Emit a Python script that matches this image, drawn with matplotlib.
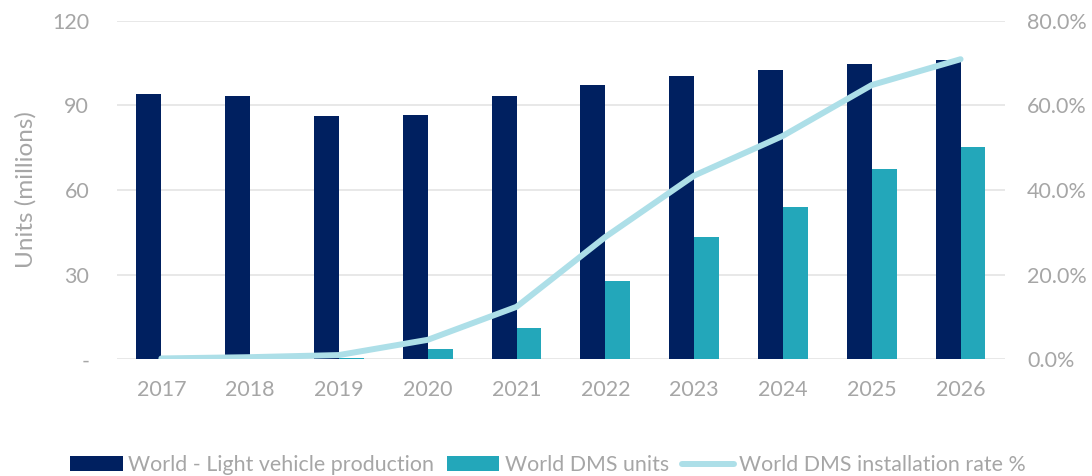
import matplotlib
matplotlib.use('Agg')
import matplotlib.pyplot as plt
from matplotlib.ticker import FuncFormatter
import numpy as np

NAVY = '#002060'
TEAL = '#23A7BA'
LIGHT = '#ADDFE8'
GREY = '#A6A6A6'

years = ['2017', '2018', '2019', '2020', '2021', '2022', '2023', '2024', '2025', '2026']
production = [93.9, 93.4, 86.3, 86.5, 93.2, 97.3, 100.3, 102.6, 104.5, 106.0]
dms_units = [0.1, 0.2, 0.5, 3.6, 11.1, 27.7, 43.5, 54.1, 67.3, 75.1]
install_rate = [0.2, 0.5, 1.0, 4.6, 12.4, 28.9, 43.4, 52.8, 64.8, 70.9]  # percent

plt.rcParams['font.family'] = ['Lato', 'DejaVu Sans']

fig = plt.figure(figsize=(10.92, 4.76), dpi=100)
ax = fig.add_axes([0.1071, 0.2452, 0.8132, 0.7113])
ax2 = ax.twinx()

x = np.arange(len(years))
w = 0.28
b1 = ax.bar(x - w/2, production, w, color=NAVY, label='World - Light vehicle production', zorder=3)
b2 = ax.bar(x + w/2, dms_units, w, color=TEAL, label='World DMS units', zorder=3)
ln, = ax2.plot(x, install_rate, color=LIGHT, lw=4.3, solid_capstyle='round',
               label='World DMS installation rate %', zorder=4)

ax.set_xlim(-0.5, len(years) - 0.5)
ax.set_ylim(0, 120)
ax.set_yticks([0, 30, 60, 90, 120])
ax.yaxis.set_major_formatter(FuncFormatter(lambda v, p: '-' if v == 0 else '%d' % v))
ax2.set_ylim(0, 80)
ax2.set_yticks([0, 20, 40, 60, 80])
ax2.yaxis.set_major_formatter(FuncFormatter(lambda v, p: '%.1f%%' % v))

ax.set_xticks(x)
ax.set_xticklabels(years)
ax.grid(axis='y', color='#E6E6E6', lw=1.3, zorder=0)
ax.set_axisbelow(True)

for a in (ax, ax2):
    for s in a.spines.values():
        s.set_visible(False)
ax.tick_params(axis='y', length=0, pad=20, labelsize=15.5, labelcolor=GREY)
ax.tick_params(axis='x', length=0, pad=15, labelsize=15.5, labelcolor=GREY)
ax2.tick_params(axis='y', length=0, pad=16, labelsize=15.5, labelcolor=GREY)

ax.set_ylabel('Units (millions)', fontsize=17.5, color=GREY)
ax.yaxis.set_label_coords(-0.09, 0.5)
ax2.patch.set_visible(False)

leg = fig.legend([b1, b2, ln], [b1.get_label(), b2.get_label(), ln.get_label()],
                 loc='center', bbox_to_anchor=(0.502, 0.023), ncol=3, frameon=False,
                 fontsize=15.4, handlelength=2.45, handleheight=0.65,
                 handletextpad=0.25, columnspacing=0.6, borderpad=0)
for t in leg.get_texts():
    t.set_color(GREY)

fig.savefig('out.png', dpi=100)
